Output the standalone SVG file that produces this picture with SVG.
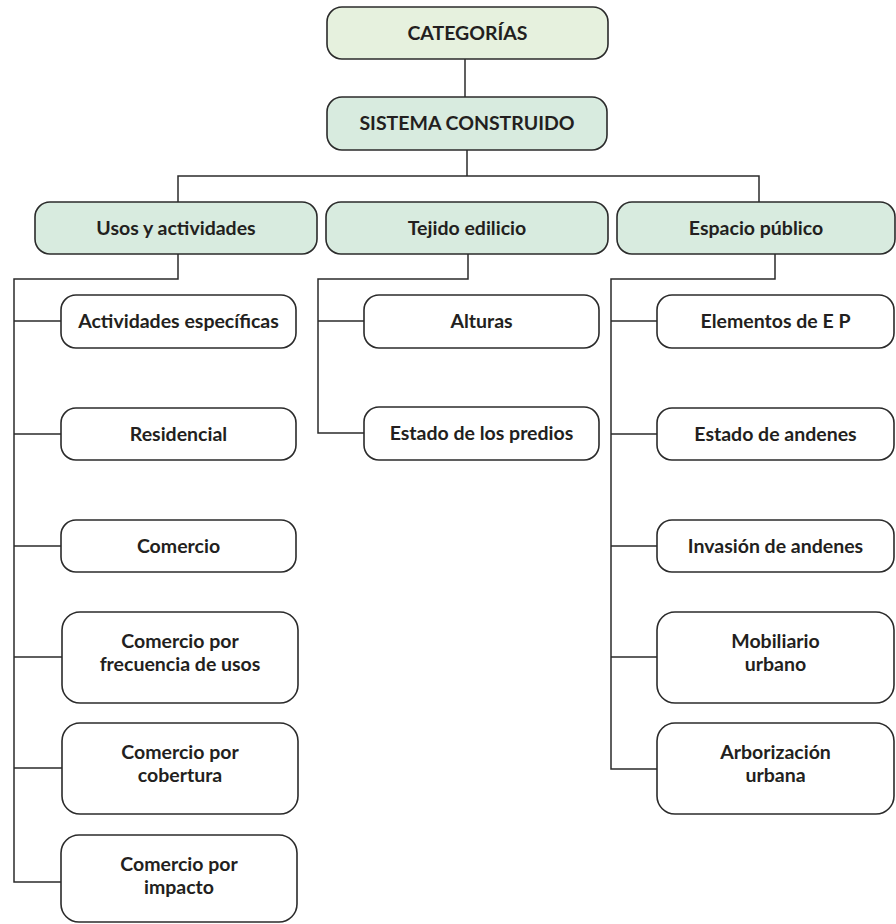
<svg xmlns="http://www.w3.org/2000/svg" width="896" height="924" viewBox="0 0 896 924">
<style>
.box{stroke:#2b2b2b;stroke-width:1.6;}
.top{fill:#e6f1de;}
.grn{fill:#d8ebdf;}
.leaf{fill:#ffffff;}
.t{font-family:Lato,"Open Sans","Liberation Sans",sans-serif;font-weight:bold;font-size:19.5px;fill:#231f20;text-anchor:middle;}
.c{fill:none;stroke:#2b2b2b;stroke-width:1.5;}
</style>
<rect width="896" height="924" fill="#ffffff"/>
<g id="connectors">
<path class="c" d="M465 59V97"/>
<path class="c" d="M467 150V176M178 202V176H759V202"/>
<path class="c" d="M178 254V279H14V882H62M14 321H61M14 434H61M14 546H61M14 657H62M14 768H62"/>
<path class="c" d="M468 254V279H318V433H364M318 321H364"/>
<path class="c" d="M775 254V279H611V769H657M611 321H657M611 434H657M611 546H657M611 657H657"/>
</g>
<g id="n-categorias"><rect class="box top" x="327" y="7" width="281" height="52" rx="15"/><text class="t" x="467.5" y="40">CATEGORÍAS</text></g>
<g id="n-sistema"><rect class="box grn" x="327" y="97" width="280" height="53" rx="15"/><text class="t" x="467" y="130">SISTEMA CONSTRUIDO</text></g>
<g id="n-usos"><rect class="box grn" x="35" y="202" width="282" height="52" rx="15"/><text class="t" x="176" y="235">Usos y actividades</text></g>
<g id="n-tejido"><rect class="box grn" x="326" y="202" width="282" height="52" rx="15"/><text class="t" x="467" y="235">Tejido edilicio</text></g>
<g id="n-espacio"><rect class="box grn" x="617" y="202" width="278" height="52" rx="15"/><text class="t" x="756" y="235">Espacio público</text></g>
<g id="n-actividades"><rect class="box leaf" x="61" y="295" width="235" height="53" rx="15"/><text class="t" x="178.5" y="328">Actividades específicas</text></g>
<g id="n-residencial"><rect class="box leaf" x="61" y="408" width="235" height="52" rx="15"/><text class="t" x="178.5" y="441">Residencial</text></g>
<g id="n-comercio"><rect class="box leaf" x="61" y="520" width="235" height="52" rx="15"/><text class="t" x="178.5" y="553">Comercio</text></g>
<g id="n-frecuencia"><rect class="box leaf" x="62" y="612" width="236" height="91" rx="18"/><text class="t" x="180" y="648">Comercio por</text><text class="t" x="180" y="671">frecuencia de usos</text></g>
<g id="n-cobertura"><rect class="box leaf" x="62" y="723" width="236" height="91" rx="18"/><text class="t" x="180" y="759">Comercio por</text><text class="t" x="180" y="782">cobertura</text></g>
<g id="n-impacto"><rect class="box leaf" x="61" y="835" width="236" height="87" rx="18"/><text class="t" x="179" y="871">Comercio por</text><text class="t" x="179" y="894">impacto</text></g>
<g id="n-alturas"><rect class="box leaf" x="364" y="295" width="235" height="53" rx="15"/><text class="t" x="481.5" y="328">Alturas</text></g>
<g id="n-predios"><rect class="box leaf" x="364" y="407" width="235" height="53" rx="15"/><text class="t" x="481.5" y="440">Estado de los predios</text></g>
<g id="n-elementos"><rect class="box leaf" x="657" y="295" width="237" height="53" rx="15"/><text class="t" x="775.5" y="328">Elementos de E P</text></g>
<g id="n-estado-andenes"><rect class="box leaf" x="657" y="408" width="237" height="52" rx="15"/><text class="t" x="775.5" y="441">Estado de andenes</text></g>
<g id="n-invasion"><rect class="box leaf" x="657" y="520" width="237" height="52" rx="15"/><text class="t" x="775.5" y="553">Invasión de andenes</text></g>
<g id="n-mobiliario"><rect class="box leaf" x="657" y="612" width="237" height="91" rx="18"/><text class="t" x="775.5" y="648">Mobiliario</text><text class="t" x="775.5" y="671">urbano</text></g>
<g id="n-arborizacion"><rect class="box leaf" x="657" y="723" width="237" height="91" rx="18"/><text class="t" x="775.5" y="759">Arborización</text><text class="t" x="775.5" y="782">urbana</text></g>
</svg>
